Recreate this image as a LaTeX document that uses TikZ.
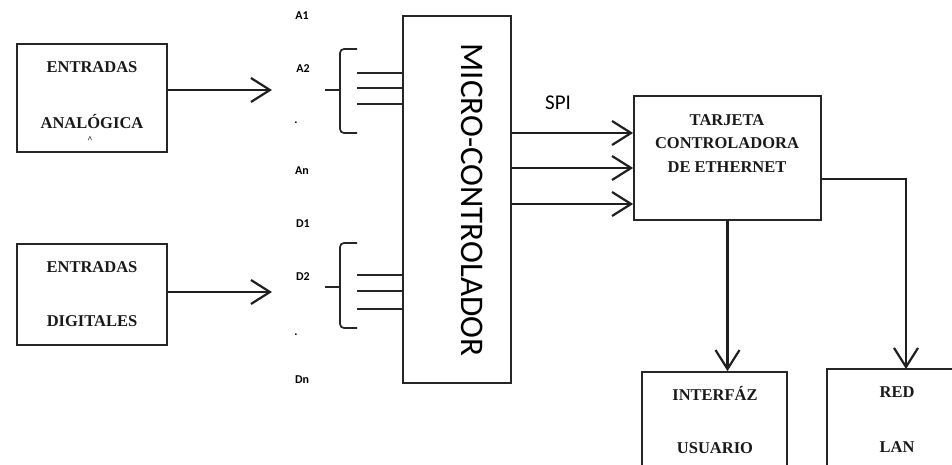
\documentclass[tikz,border=0pt]{standalone}
\usepackage{fontspec}
\setmainfont{Liberation Serif}
\newfontfamily\calfont{Carlito}
\usetikzlibrary{arrows.meta}
\begin{document}
\begin{tikzpicture}[x=1pt,y=-1pt,
  box/.style={draw=black!85, line width=1.8pt, inner sep=0pt},
  lbl/.style={font=\bfseries\fontsize{16.5}{17}\selectfont, text=black!90},
  pin/.style={font=\calfont\bfseries\fontsize{12}{12}\selectfont, inner sep=0pt},
  wire/.style={draw=black!85, line width=1.7pt},
  arr/.style={draw=black!88, line width=2.2pt, -{Straight Barb[length=19pt,width=24pt,line width=2.2pt]}},
  bracestyle/.style={draw=black!85, line width=1.7pt, rounded corners=4pt}
]
\useasboundingbox (0,0) rectangle (952,465);
\clip (0,0) rectangle (952,465);

% boxes
\node[box, minimum width=150pt, minimum height=108pt] (ana) at (92,98) {};
\node[box, minimum width=150pt, minimum height=101pt] (dig) at (92,294.5) {};
\node[box, minimum width=108pt, minimum height=367pt] (mcu) at (457,199.5) {};
\node[box, minimum width=187pt, minimum height=124pt] (eth) at (727.5,158) {};
\node[box, minimum width=145pt, minimum height=128pt] (ui) at (714.5,436) {};
\node[box, minimum width=140pt, minimum height=132pt] (lan) at (897,435) {};

% box texts
\node[lbl] (anaA) at (92,67) {ENTRADAS};
\node[lbl] (anaB) at (92,122) {ANALÓGICA};
\node[font=\bfseries\fontsize{9}{9}\selectfont] (anaC) at (90,140) {\textasciicircum};
\node[lbl] (digA) at (92,267) {ENTRADAS};
\node[lbl] (digB) at (92,321) {DIGITALES};
\node[lbl] (ethA) at (727,120) {TARJETA};
\node[lbl] (ethB) at (727,143) {CONTROLADORA};
\node[lbl] (ethC) at (727,167) {DE ETHERNET};
\node[lbl] (uiA) at (715,393) {INTERFÁZ};
\node[lbl] (uiB) at (715,448) {USUARIO};
\node[lbl] (lanA) at (897,392) {RED};
\node[lbl] (lanB) at (897,447) {LAN};
\node[font=\calfont\fontsize{33}{33}\selectfont, rotate=-90] (mcuT) at (472,200) {MICRO-CONTROLADOR};
\node[font=\calfont\fontsize{21}{21}\selectfont] (spi) at (558,103) {SPI};

% pin labels
\node[pin] (pA1) at (302,16) {A1};
\node[pin] (pA2) at (303,69) {A2};
\node[pin, anchor=base] (pAd) at (296,124) {.};
\node[pin] (pAn) at (302,171) {An};
\node[pin] (pD1) at (303,224) {D1};
\node[pin] (pD2) at (303,277) {D2};
\node[pin, anchor=base] (pDd) at (296,335) {.};
\node[pin] (pDn) at (302,380) {Dn};

% input arrows
\coordinate (ain) at (272,90);
\coordinate (din) at (272,292);
\draw[arr] (ana.east |- ain) -- (ain);
\draw[arr] (dig.east |- din) -- (din);

% braces
\coordinate (bA) at (340,90);
\coordinate (bD) at (340,287);
\draw[bracestyle] (357,49) -- (340,49) -- (340,133) -- (357,133);
\draw[wire] (325,90) -- (bA);
\draw[bracestyle] (357,243) -- (340,243) -- (340,328) -- (357,328);
\draw[wire] (325,287) -- (bD);

% bus lines into MCU
\foreach \yy in {73,88,104,275,291,309} {
  \draw[wire] (357,\yy) -- (mcu.west |- 0,\yy);
}

% SPI arrows
\foreach \yy in {133,168,204} {
  \draw[arr] (mcu.east |- 0,\yy) -- (eth.west |- 0,\yy);
}

% outputs
\draw[arr] (eth.south) -- (eth.south |- ui.north);
\coordinate (lanin) at (906,369);
\draw[arr] (eth.east |- 0,179) -| (lanin);
\end{tikzpicture}
\end{document}
